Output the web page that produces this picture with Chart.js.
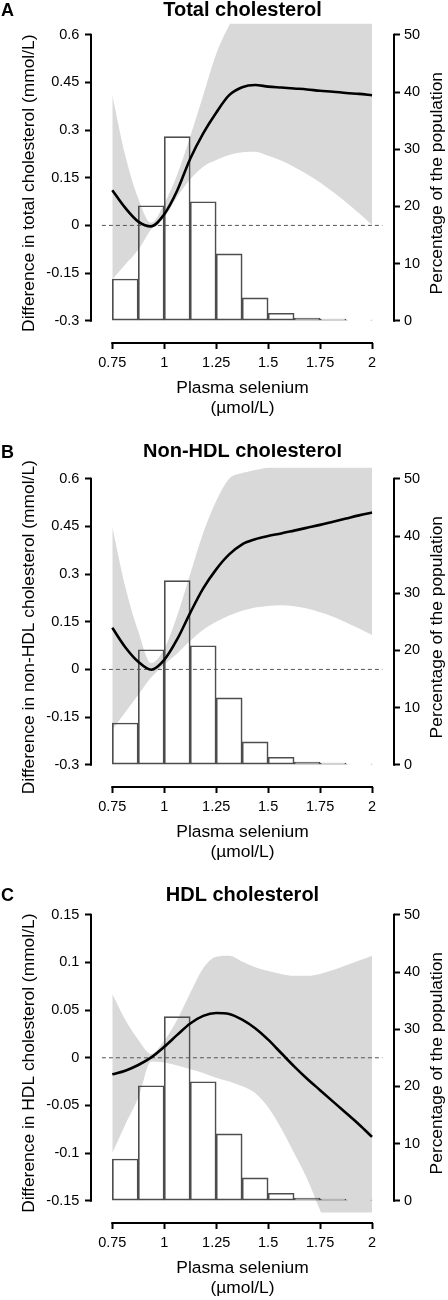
<!DOCTYPE html>
<html>
<head>
<meta charset="utf-8">
<script src="https://cdn.jsdelivr.net/npm/chart.js@4.4.1/dist/chart.umd.min.js"></script>
<style>
  body { margin: 0; background: #fff; }
  .panel { position: absolute; left: 0; width: 448px; height: 420px; }
  .tag { position: absolute; left: 1px; font: bold 18px "Liberation Sans", Arial, sans-serif; line-height: 18px; color: #000; }
</style>
</head>
<body>
<div class="panel" style="top:0px"><canvas id="chartA" width="448" height="420"></canvas><div class="tag" style="top:1px">A</div></div>
<div class="panel" style="top:444px"><canvas id="chartB" width="448" height="420"></canvas><div class="tag" style="top:-1px">B</div></div>
<div class="panel" style="top:880px"><canvas id="chartC" width="448" height="420"></canvas><div class="tag" style="top:6px">C</div></div>
<script>
// plasma selenium grid (µmol/L)
var selenium = [0.75, 0.8125, 0.875, 0.9375, 1, 1.0625, 1.125, 1.1875, 1.25, 1.3125, 1.375,
                1.4375, 1.5, 1.5625, 1.625, 1.6875, 1.75, 1.8125, 1.875, 1.9375, 2];

// histogram: bin midpoints and % of the population
var binMid = [0.8125, 0.9375, 1.0625, 1.1875, 1.3125, 1.4375, 1.5625, 1.6875, 1.8125, 1.9375];
var popPct = [7.3, 20.1, 32.2, 20.8, 11.7, 4.0, 1.3, 0.45, 0.3, 0.1];

// A - total cholesterol
var totalDiff = [0.111, 0.055, 0.012, -0.003, 0.035, 0.11, 0.21, 0.29, 0.355, 0.41, 0.435,
                 0.442, 0.437, 0.434, 0.431, 0.428, 0.424, 0.421, 0.417, 0.414, 0.41];
var totalLow  = [-0.17, -0.123, -0.077, -0.012, 0.025, 0.09, 0.145, 0.185, 0.206, 0.222, 0.23,
                 0.232, 0.219, 0.204, 0.184, 0.161, 0.135, 0.105, 0.073, 0.038, 0.001];
var totalHigh = [0.41, 0.22, 0.085, 0.008, 0.068, 0.16, 0.28, 0.41, 0.54, 0.63, 0.7,
                 0.76, 0.8, 0.83, 0.86, 0.88, 0.9, 0.91, 0.92, 0.93, 0.94];

// B - non-HDL cholesterol
var nonHdlDiff = [0.131, 0.07, 0.024, -0.001, 0.03, 0.095, 0.178, 0.255, 0.315, 0.362, 0.394,
                  0.41, 0.42, 0.428, 0.437, 0.446, 0.455, 0.465, 0.475, 0.485, 0.494];
var nonHdlLow  = [-0.19, -0.135, -0.08, -0.025, 0.015, 0.05, 0.09, 0.125, 0.15, 0.17, 0.185,
                  0.195, 0.2, 0.202, 0.199, 0.192, 0.18, 0.166, 0.148, 0.129, 0.108];
var nonHdlHigh = [0.448, 0.26, 0.12, 0.02, 0.065, 0.17, 0.3, 0.43, 0.53, 0.6, 0.618,
                  0.628, 0.636, 0.645, 0.655, 0.665, 0.675, 0.685, 0.695, 0.7, 0.705];

// C - HDL cholesterol
var hdlDiff = [-0.0174, -0.0136, -0.0076, 0.0004, 0.0115, 0.024, 0.036, 0.044, 0.047, 0.046, 0.04,
               0.031, 0.019, 0.005, -0.009, -0.022, -0.034, -0.046, -0.058, -0.07, -0.083];
var hdlLow  = [-0.1, -0.07, -0.042, -0.004, -0.005, -0.008, -0.012, -0.016, -0.021, -0.025, -0.03,
               -0.037, -0.052, -0.074, -0.1, -0.127, -0.16, -0.19, -0.22, -0.25, -0.28];
var hdlHigh = [0.067, 0.04, 0.019, 0.004, 0.018, 0.04, 0.068, 0.094, 0.106, 0.107, 0.101,
               0.095, 0.091, 0.088, 0.086, 0.086, 0.088, 0.092, 0.097, 0.102, 0.107];

// ticks
var xTicks = [0.75, 1, 1.25, 1.5, 1.75, 2];
var xTickLabels = ['0.75', '1', '1.25', '1.5', '1.75', '2'];
var pctTicks = [0, 10, 20, 30, 40, 50];
var pctTickLabels = ['0', '10', '20', '30', '40', '50'];
var diffTicks = [-0.3, -0.15, 0, 0.15, 0.3, 0.45, 0.6];
var diffTickLabels = ['-0.3', '-0.15', '0', '0.15', '0.3', '0.45', '0.6'];
var hdlTicks = [-0.15, -0.1, -0.05, 0, 0.05, 0.1, 0.15];
var hdlTickLabels = ['-0.15', '-0.1', '-0.05', '0', '0.05', '0.1', '0.15'];

Chart.defaults.font.family = '"Liberation Sans", Arial, sans-serif';
Chart.defaults.color = '#000';

function pts(xs, ys) {
  return xs.map(function (x, i) { return { x: x, y: ys[i] }; });
}
// axis range = tick span plus a share of it below / above
function spanRange(ticks, below, above) {
  var lo = ticks[0], hi = ticks[ticks.length - 1], d = hi - lo;
  return [lo - d * below, hi + d * above];
}
function fixTicks(vals) {
  return function (scale) { scale.ticks = vals.map(function (v) { return { value: v }; }); };
}

// right axis title, reading bottom to top like the left one
var rightTitle = {
  id: 'rightTitle',
  afterDraw: function (chart, args, opts) {
    var ctx = chart.ctx, a = chart.chartArea;
    ctx.save();
    ctx.fillStyle = '#000';
    ctx.font = '17.4px "Liberation Sans", Arial, sans-serif';
    ctx.textAlign = 'center';
    ctx.textBaseline = 'middle';
    ctx.translate(a.right + 43.5, (a.top + a.bottom) / 2);
    ctx.rotate(-Math.PI / 2);
    ctx.fillText(opts.text, 0, 0);
    ctx.restore();
  }
};

// R style axis line, only as long as the ticks
function axisLine(label, data, yAxisID) {
  return {
    label: label, data: data, yAxisID: yAxisID,
    borderColor: '#000', borderWidth: 2, borderCapStyle: 'square',
    pointRadius: 0, fill: false, clip: false, tension: 0, order: -1
  };
}

function buildPanel(canvasId, p) {
  // axes sit outside the R plot region (4% beyond the ticks)
  var xRange = spanRange(xTicks, 0.082, 0.0846);
  var yRange = spanRange(p.yTicks, 0.078, 0.04);
  var pRange = spanRange(pctTicks, 0.078, 0.04);
  var plotX = spanRange(xTicks, 0.04, 0.04);
  var yLo = p.yTicks[0], yHi = p.yTicks[p.yTicks.length - 1];
  var tickFont = { size: 14.5 };
  var gridTicks = {
    display: true, drawOnChartArea: false, drawTicks: true, offset: false,
    tickLength: 6, tickWidth: 2, tickColor: '#000'
  };

  return new Chart(document.getElementById(canvasId), {
    type: 'line',
    data: {
      datasets: [{
        label: 'Difference',
        data: pts(selenium, p.diff),
        yAxisID: 'y',
        borderColor: '#000',
        borderWidth: 2.6,
        pointRadius: 0,
        fill: false,
        cubicInterpolationMode: 'monotone',
        order: 0
      }, {
        label: 'No difference',
        data: [{ x: plotX[0], y: 0 }, { x: plotX[1], y: 0 }],
        yAxisID: 'y',
        borderColor: '#555',
        borderWidth: 1,
        borderDash: [4, 3],
        pointRadius: 0,
        fill: false,
        order: 1
      }, {
        type: 'bar',
        label: 'Percentage of the population',
        data: pts(binMid, popPct),
        yAxisID: 'y2',
        backgroundColor: 'rgba(255,255,255,0)',
        borderColor: '#4d4d4d',
        borderWidth: 1,
        borderSkipped: false,
        barPercentage: 1,
        categoryPercentage: 1,
        order: 2
      }, {
        label: 'Upper 95% CI',
        data: pts(selenium, p.high),
        yAxisID: 'y',
        borderColor: 'rgba(0,0,0,0)',
        borderWidth: 0,
        pointRadius: 0,
        backgroundColor: '#d9d9d9',
        fill: '+1',
        clip: { left: 0, top: 0, right: 0, bottom: -10.6 },
        cubicInterpolationMode: 'monotone',
        order: 3
      }, {
        label: 'Lower 95% CI',
        data: pts(selenium, p.low),
        yAxisID: 'y',
        borderColor: 'rgba(0,0,0,0)',
        borderWidth: 0,
        pointRadius: 0,
        fill: false,
        cubicInterpolationMode: 'monotone',
        order: 4
      },
      axisLine('left axis', [{ x: xRange[0], y: yLo }, { x: xRange[0], y: yHi }], 'y'),
      axisLine('bottom axis', [{ x: xTicks[0], y: yRange[0] }, { x: xTicks[xTicks.length - 1], y: yRange[0] }], 'y'),
      axisLine('right axis', [{ x: xRange[1], y: pctTicks[0] }, { x: xRange[1], y: pctTicks[pctTicks.length - 1] }], 'y2')
      ]
    },
    options: {
      responsive: false,
      animation: false,
      layout: { padding: 0, autoPadding: false },
      plugins: {
        legend: { display: false },
        tooltip: { enabled: false },
        title: {
          display: true,
          text: p.title,
          fullSize: false,
          color: '#000',
          font: { size: 20, weight: 'bold', lineHeight: 1 },
          padding: { top: p.titleTop, bottom: 3.4 - p.titleTop }
        },
        rightTitle: { text: 'Percentage of the population' }
      },
      scales: {
        x: {
          type: 'linear',
          offset: false,
          min: xRange[0], max: xRange[1],
          afterBuildTicks: fixTicks(xTicks),
          afterFit: function (s) { s.height = 77; },
          grid: gridTicks,
          border: { display: false },
          ticks: {
            padding: 5.6, font: tickFont, maxRotation: 0, autoSkip: false,
            callback: function (v, i) { return xTickLabels[i]; }
          },
          title: {
            display: true,
            text: ['Plasma selenium', '(µmol/L)'],
            font: { size: 17.4, lineHeight: '20px' },
            padding: { top: 0, bottom: 2 }
          }
        },
        y: {
          type: 'linear',
          position: 'left',
          min: yRange[0], max: yRange[1],
          afterBuildTicks: fixTicks(p.yTicks),
          afterFit: function (s) { s.width = 91; },
          grid: gridTicks,
          border: { display: false },
          ticks: {
            padding: 5.6, font: tickFont, autoSkip: false,
            callback: function (v, i) { return p.yLabels[i]; }
          },
          title: {
            display: true,
            text: p.yTitle,
            font: { size: 17.4 },
            padding: { top: 19, bottom: 0 }
          }
        },
        y2: {
          type: 'linear',
          position: 'right',
          min: pRange[0], max: pRange[1],
          afterBuildTicks: fixTicks(pctTicks),
          afterFit: function (s) { s.width = 54; },
          grid: gridTicks,
          border: { display: false },
          ticks: {
            padding: 4, font: tickFont, autoSkip: false,
            callback: function (v, i) { return pctTickLabels[i]; }
          }
        }
      }
    },
    plugins: [rightTitle]
  });
}

buildPanel('chartA', {
  title: 'Total cholesterol', titleTop: 0,
  yTitle: 'Difference in total cholesterol (mmol/L)',
  yTicks: diffTicks, yLabels: diffTickLabels,
  diff: totalDiff, low: totalLow, high: totalHigh
});
buildPanel('chartB', {
  title: 'Non-HDL cholesterol', titleTop: -2.5,
  yTitle: 'Difference in non-HDL cholesterol (mmol/L)',
  yTicks: diffTicks, yLabels: diffTickLabels,
  diff: nonHdlDiff, low: nonHdlLow, high: nonHdlHigh
});
buildPanel('chartC', {
  title: 'HDL cholesterol', titleTop: 5,
  yTitle: 'Difference in HDL cholesterol (mmol/L)',
  yTicks: hdlTicks, yLabels: hdlTickLabels,
  diff: hdlDiff, low: hdlLow, high: hdlHigh
});
</script>
</body>
</html>
